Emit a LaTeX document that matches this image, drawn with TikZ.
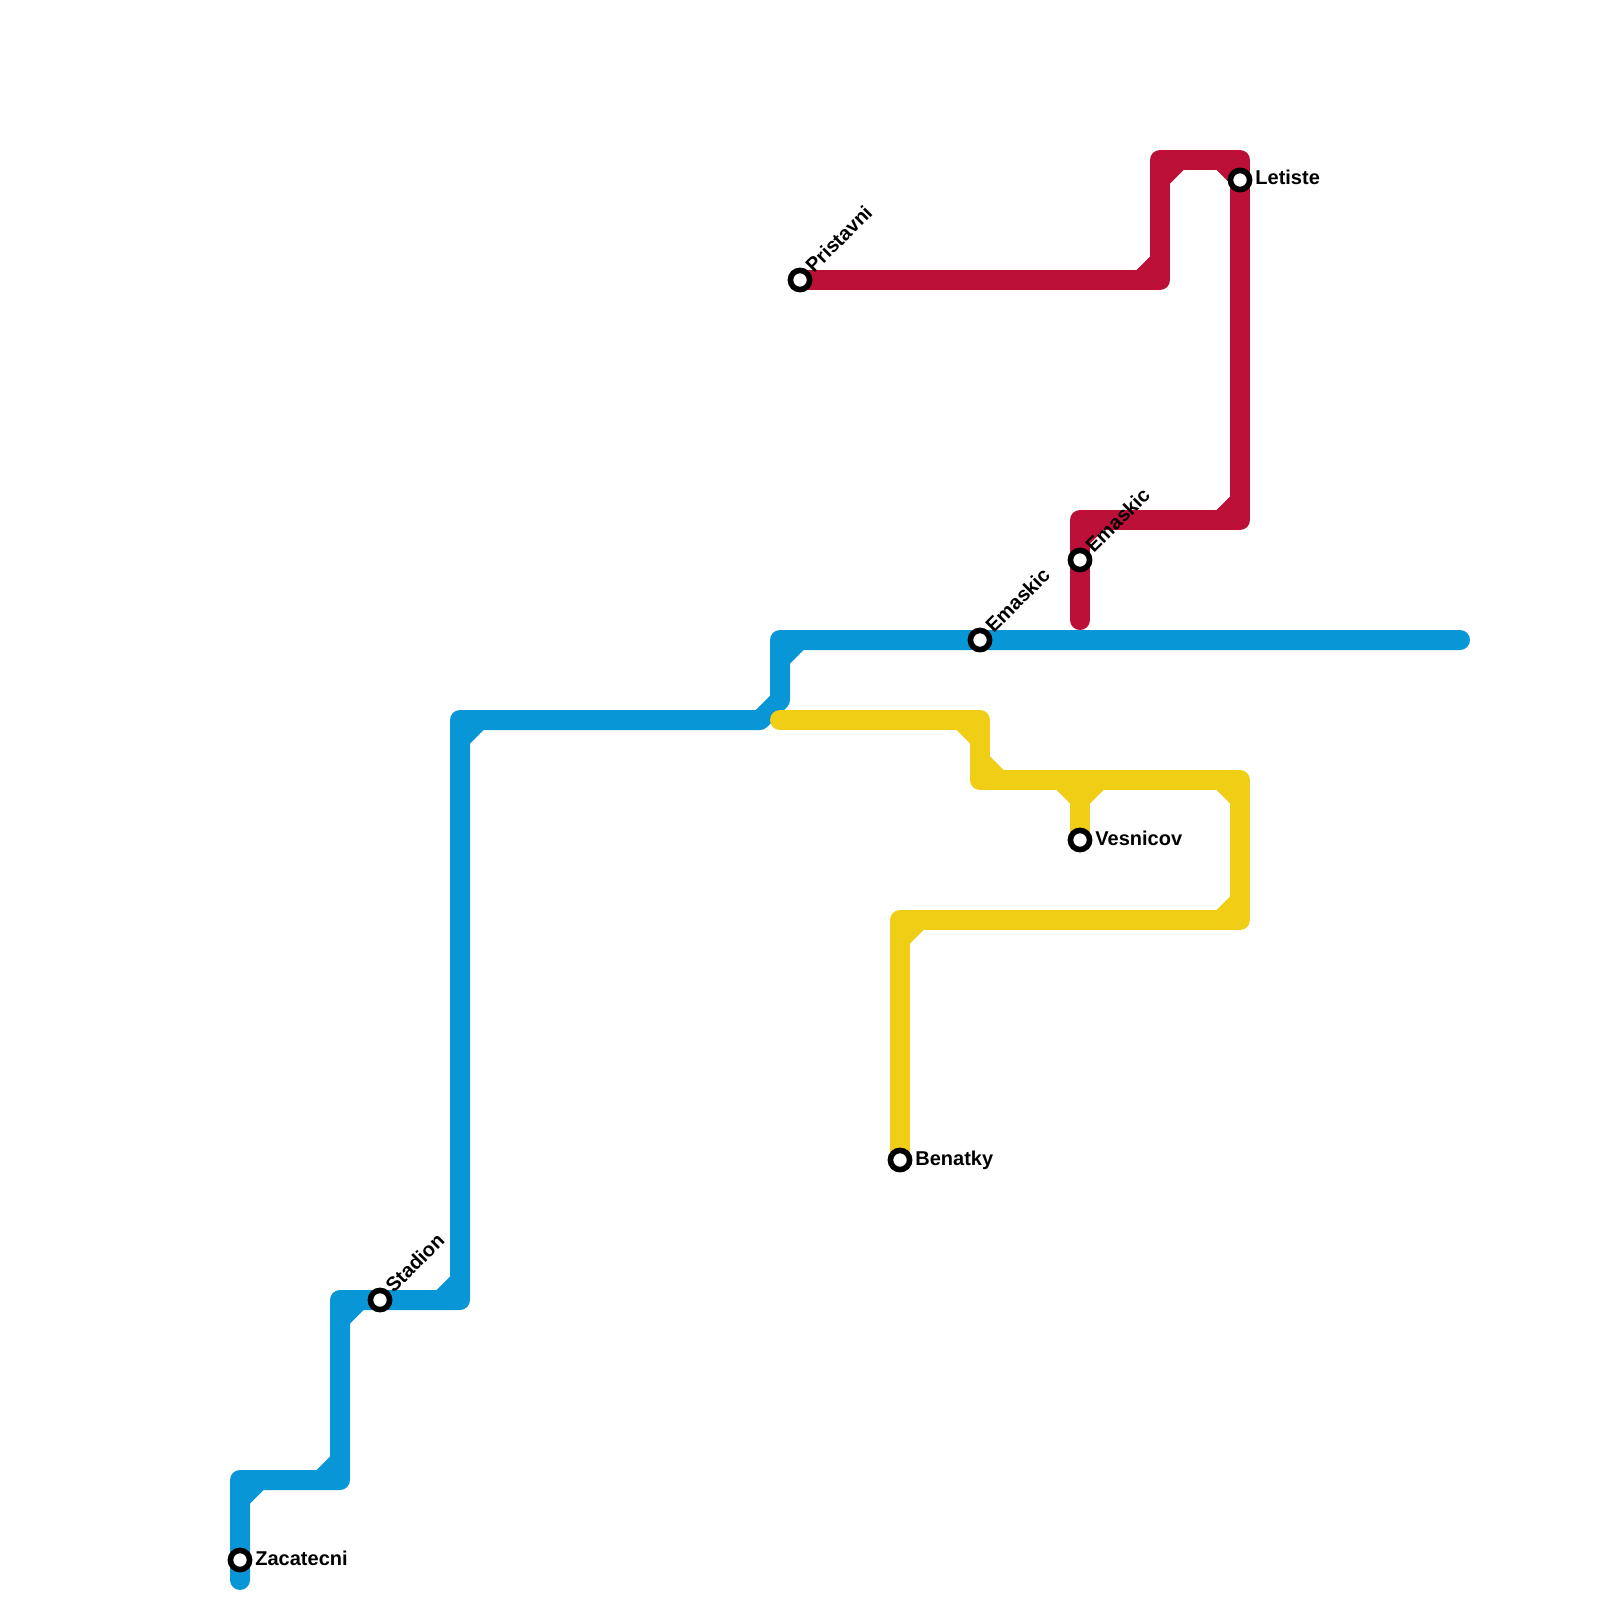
\documentclass[tikz,border=0pt]{standalone}
\usepackage{fontspec}
\setmainfont{Liberation Sans}
\usetikzlibrary{calc}
\definecolor{mblue}{HTML}{0896D7}
\definecolor{mred}{HTML}{BD1038}
\definecolor{myellow}{HTML}{F0CE15}
\tikzset{
  metro/.style={line width=10pt,line join=round,line cap=round},
  stn/.style={shape=circle,draw=black,fill=white,line width=2.8pt,minimum size=9.6pt,inner sep=0pt,outer sep=0pt},
  lbl/.style={font=\bfseries\fontsize{10}{12}\selectfont,text=black,inner sep=0pt,anchor=west,text height=7.2pt,text depth=0pt},
  diag/.style={lbl,rotate=45}
}
% corner name, x sign, y sign, colour
\newcommand{\chamf}[4]{\fill[#4] ($(#1)+(10*#2,10*#3)$) -- +(13.5*#2,0) -- +(0,13.5*#3) -- cycle;}
\begin{document}
\begin{tikzpicture}[x=0.5pt,y=-0.5pt]
\useasboundingbox (0,0) rectangle (1600,1600);
% stations positions
\coordinate (pZac) at (240,1560);
\coordinate (pSta) at (380,1300);
\coordinate (pEmB) at (980,640);
\coordinate (pEmR) at (1080,560);
\coordinate (pPri) at (800,280);
\coordinate (pLet) at (1240,180);
\coordinate (pVes) at (1080,840);
\coordinate (pBen) at (900,1160);
% red
\coordinate (r1) at (1160,280);
\coordinate (r2) at (1160,160);
\coordinate (r3) at (1240,160);
\coordinate (r4) at (1240,520);
\coordinate (r5) at (1080,520);
\coordinate (r6) at (1080,620);
\draw[metro,mred] (pPri) -- (r1) -- (r2) -- (r3) -- (r4) -- (r5) -- (r6);
\chamf{r1}{-1}{-1}{mred}
\chamf{r2}{1}{1}{mred}
\chamf{r3}{-1}{1}{mred}
\chamf{r4}{-1}{-1}{mred}
\chamf{r5}{1}{1}{mred}
% blue
\coordinate (b0) at (240,1580);
\coordinate (b1) at (240,1480);
\coordinate (b2) at (340,1480);
\coordinate (b3) at (340,1300);
\coordinate (b4) at (460,1300);
\coordinate (b5) at (460,720);
\coordinate (b6) at (760,720);
\coordinate (b6a) at (780,700);
\coordinate (b7) at (780,640);
\coordinate (b8) at (1460,640);
\draw[metro,mblue] (b0) -- (b1) -- (b2) -- (b3) -- (b4) -- (b5) -- (b6) -- (b6a) -- (b7) -- (b8);
\chamf{b1}{1}{1}{mblue}
\chamf{b2}{-1}{-1}{mblue}
\chamf{b3}{1}{1}{mblue}
\chamf{b4}{-1}{-1}{mblue}
\chamf{b5}{1}{1}{mblue}
\chamf{b7}{1}{1}{mblue}
% yellow
\coordinate (y0) at (780,720);
\coordinate (y1) at (980,720);
\coordinate (y2) at (980,780);
\coordinate (y3) at (1080,780);
\coordinate (y4) at (1240,780);
\coordinate (y5) at (1240,920);
\coordinate (y6) at (900,920);
\draw[metro,myellow] (y0) -- (y1) -- (y2) -- (y4) -- (y5) -- (y6) -- (pBen);
\draw[metro,myellow] (y3) -- (pVes);
\chamf{y1}{-1}{1}{myellow}
\chamf{y2}{1}{-1}{myellow}
\chamf{y3}{-1}{1}{myellow}
\chamf{y3}{1}{1}{myellow}
\chamf{y4}{-1}{1}{myellow}
\chamf{y5}{-1}{-1}{myellow}
\chamf{y6}{1}{1}{myellow}
% stations
\node[stn] (sZac) at (pZac) {};
\node[stn] (sSta) at (pSta) {};
\node[stn] (sEmB) at (pEmB) {};
\node[stn] (sEmR) at (pEmR) {};
\node[stn] (sPri) at (pPri) {};
\node[stn] (sLet) at (pLet) {};
\node[stn] (sVes) at (pVes) {};
\node[stn] (sBen) at (pBen) {};
% labels
\node[lbl] (lZac) at ($(pZac)+(15,-2)$) {Zacatecni};
\node[lbl] (lLet) at ($(pLet)+(15,-3)$) {Letiste};
\node[lbl] (lVes) at ($(pVes)+(15,-2)$) {Vesnicov};
\node[lbl] (lBen) at ($(pBen)+(15,-2)$) {Benatky};
\node[diag] (lSta) at ($(pSta)+(8.5,-11)$) {Stadion};
\node[diag] (lEmB) at ($(pEmB)+(8.5,-11)$) {Emaskic};
\node[diag] (lEmR) at ($(pEmR)+(8.5,-11)$) {Emaskic};
\node[diag] (lPri) at ($(pPri)+(8.5,-11)$) {Pristavni};
\end{tikzpicture}
\end{document}
